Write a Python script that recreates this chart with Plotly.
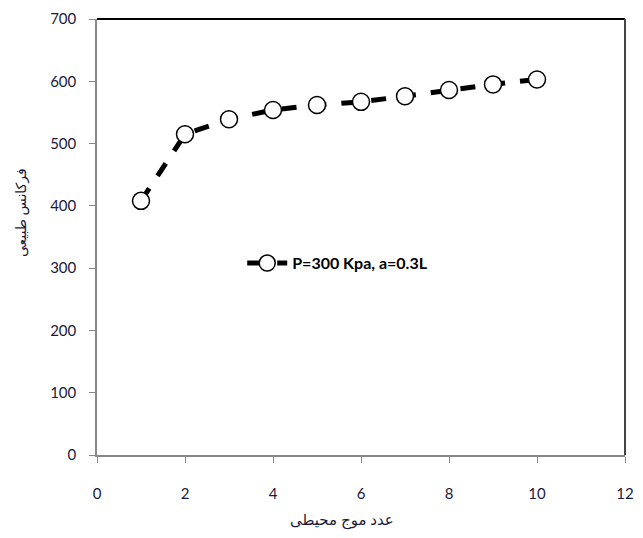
import plotly.graph_objects as go

wave_number = [1, 2, 3, 4, 5, 6, 7, 8, 9, 10]
frequency = [408, 515, 539, 554, 562, 567, 576, 586, 595, 603]
series_name = "P=300 Kpa, a=0.3L"
x_title = "عدد موج محیطی"
y_title = "فرکانس طبیعی"
x_ticks = [0, 2, 4, 6, 8, 10, 12]
y_ticks = [0, 100, 200, 300, 400, 500, 600, 700]

fig = go.Figure()
fig.add_trace(go.Scatter(
    x=wave_number, y=frequency, name=series_name,
    mode="lines+markers",
    line=dict(color="black", width=5, dash="dash"),
    marker=dict(symbol="circle", size=17, color="white",
                line=dict(color="black", width=1.5)),
))

fig.update_layout(
    width=635, height=530,
    margin=dict(l=89, r=18, t=11, b=83),
    paper_bgcolor="white", plot_bgcolor="white",
    font=dict(family="Lato, Open Sans, sans-serif", size=15, color="#1a1a3a"),
    showlegend=True,
    legend=dict(x=0.275, y=0.44, xanchor="left", yanchor="middle",
                bgcolor="rgba(0,0,0,0)",
                font=dict(size=16, color="black", family="Lato, Open Sans, sans-serif", weight="bold"),
                itemwidth=40),
    xaxis=dict(range=[0, 12], tickvals=x_ticks, showgrid=False, zeroline=False,
               showline=True, linecolor="#888888", linewidth=1.5,
               ticks="outside", ticklen=6, tickcolor="#888888",
               automargin=False, ticklabelstandoff=18),
    yaxis=dict(range=[0, 700], tickvals=y_ticks, showgrid=False, zeroline=False,
               showline=True, linecolor="#888888", linewidth=1.5,
               ticks="outside", ticklen=6, tickcolor="#888888",
               automargin=False, ticklabelstandoff=10),
)
fig.add_annotation(text=x_title, xref="paper", yref="paper", x=0.464, y=-0.147,
                   showarrow=False, xanchor="center", yanchor="middle",
                   font=dict(size=15, family="Noto Sans, DejaVu Sans", color="#1a1a3a"))
fig.add_annotation(text=y_title, xref="paper", yref="paper", x=-0.146, y=0.557,
                   showarrow=False, xanchor="center", yanchor="middle", textangle=-90,
                   font=dict(size=14, family="Noto Sans, DejaVu Sans", color="#1a1a3a"))
fig.add_shape(type="line", xref="paper", yref="paper", x0=0, x1=1, y0=1, y1=1,
              line=dict(color="black", width=2))
fig.add_shape(type="line", xref="paper", yref="paper", x0=1, x1=1, y0=0, y1=1,
              line=dict(color="#444444", width=2))

fig.write_html("out.html")
